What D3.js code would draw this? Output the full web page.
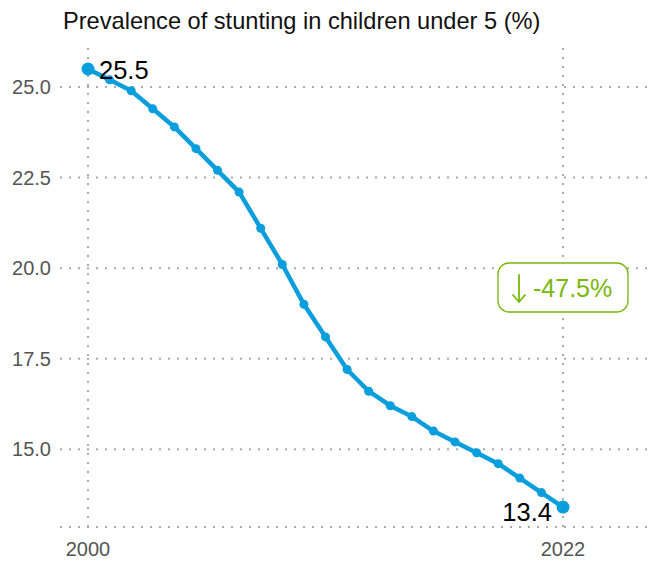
<!DOCTYPE html>
<html>
<head>
<meta charset="utf-8">
<script src="https://cdn.jsdelivr.net/npm/d3@7"></script>
<style>
  body { margin:0; background:#fff; }
  svg { font-family: "Liberation Sans", Arial, sans-serif; }
</style>
</head>
<body>
<svg id="chart" width="650" height="563"></svg>
<script>
// data
var years = [2000,2001,2002,2003,2004,2005,2006,2007,2008,2009,2010,2011,2012,2013,2014,2015,2016,2017,2018,2019,2020,2021,2022]
var stunting = [25.5,25.2,24.9,24.4,23.9,23.3,22.7,22.1,21.1,20.1,19.0,18.1,17.2,16.6,16.2,15.9,15.5,15.2,14.9,14.6,14.2,13.8,13.4]
var yTicks = [15.0,17.5,20.0,22.5,25.0]
var xTicks = [2000,2022]
var title = "Prevalence of stunting in children under 5 (%)"
var changeText = "-47.5%"

var blue = "#0a9edc"
var green = "#78b80a"

var svg = d3.select("#chart")

var x = d3.scaleLinear().domain([2000,2022]).range([88,563])
var y = d3.scaleLinear().domain([12.85,26.08]).range([527,48])

// 제목
svg.append("text").attr("x",63).attr("y",29)
   .attr("font-size",23.6).attr("fill","#111").text(title)

// 가로 그리드
svg.selectAll(".hgrid").data(yTicks.concat([12.85])).enter()
   .append("line")
   .attr("x1",60).attr("x2",650)
   .attr("y1",d=>y(d)).attr("y2",d=>y(d))
   .attr("stroke","#aaa").attr("stroke-width",2).attr("stroke-dasharray","2,7")

// 세로 그리드
svg.selectAll(".vgrid").data(xTicks).enter()
   .append("line")
   .attr("x1",d=>x(d)).attr("x2",d=>x(d))
   .attr("y1",48).attr("y2",532)
   .attr("stroke","#aaa").attr("stroke-width",2).attr("stroke-dasharray","2,7")

// y 라벨
svg.selectAll(".ylab").data(yTicks).enter()
   .append("text")
   .attr("x",51).attr("y",d=>y(d)).attr("dy","0.35em")
   .attr("text-anchor","end").attr("font-size",20).attr("fill","#555")
   .text(d=>d3.format(".1f")(d))

// x 라벨
svg.selectAll(".xlab").data(xTicks).enter()
   .append("text")
   .attr("x",d=>x(d)).attr("y",556)
   .attr("text-anchor","middle").attr("font-size",20).attr("fill","#555")
   .text(d=>d)

var pts = years.map((yr,i)=>({year:yr,val:stunting[i]}))

// 라인
var line = d3.line().x(d=>x(d.year)).y(d=>y(d.val))
svg.append("path").datum(pts)
   .attr("d",line).attr("fill","none")
   .attr("stroke",blue).attr("stroke-width",4.5).attr("stroke-linejoin","round")

svg.selectAll(".pt").data(pts).enter()
   .append("circle")
   .attr("cx",d=>x(d.year)).attr("cy",d=>y(d.val))
   .attr("r",(d,i)=> (i==0 || i==pts.length-1) ? 6.5 : 4.5)
   .attr("fill",blue)

// 시작, 끝 값
var first = pts[0], last = pts[pts.length-1]
svg.append("text").attr("x",x(first.year)+11).attr("y",y(first.val)+1).attr("dy","0.35em")
   .attr("font-size",25.5).attr("fill","#000").text(first.val.toFixed(1))
svg.append("text").attr("x",x(last.year)-11).attr("y",y(last.val)+5).attr("dy","0.35em")
   .attr("text-anchor","end").attr("font-size",25.5).attr("fill","#000").text(last.val.toFixed(1))

// 변화율 박스
var bx = x(2022), by = 288
svg.append("rect").attr("x",bx-65).attr("y",by-25).attr("width",130).attr("height",49)
   .attr("rx",11).attr("fill","#fff").attr("stroke",green).attr("stroke-width",1.3)
// 가는 화살표 (↓)
var ax = bx-44
svg.append("path")
   .attr("d","M"+ax+","+(by-13)+"V"+(by+14)+"M"+(ax-6)+","+(by+7)+"L"+ax+","+(by+14)+"L"+(ax+6)+","+(by+7))
   .attr("fill","none").attr("stroke",green).attr("stroke-width",1.8)
   .attr("stroke-linecap","round").attr("stroke-linejoin","round")
svg.append("text").attr("x",bx-30).attr("y",by).attr("dy","0.35em")
   .attr("font-size",25).attr("fill",green).text(changeText)
</script>
</body>
</html>
